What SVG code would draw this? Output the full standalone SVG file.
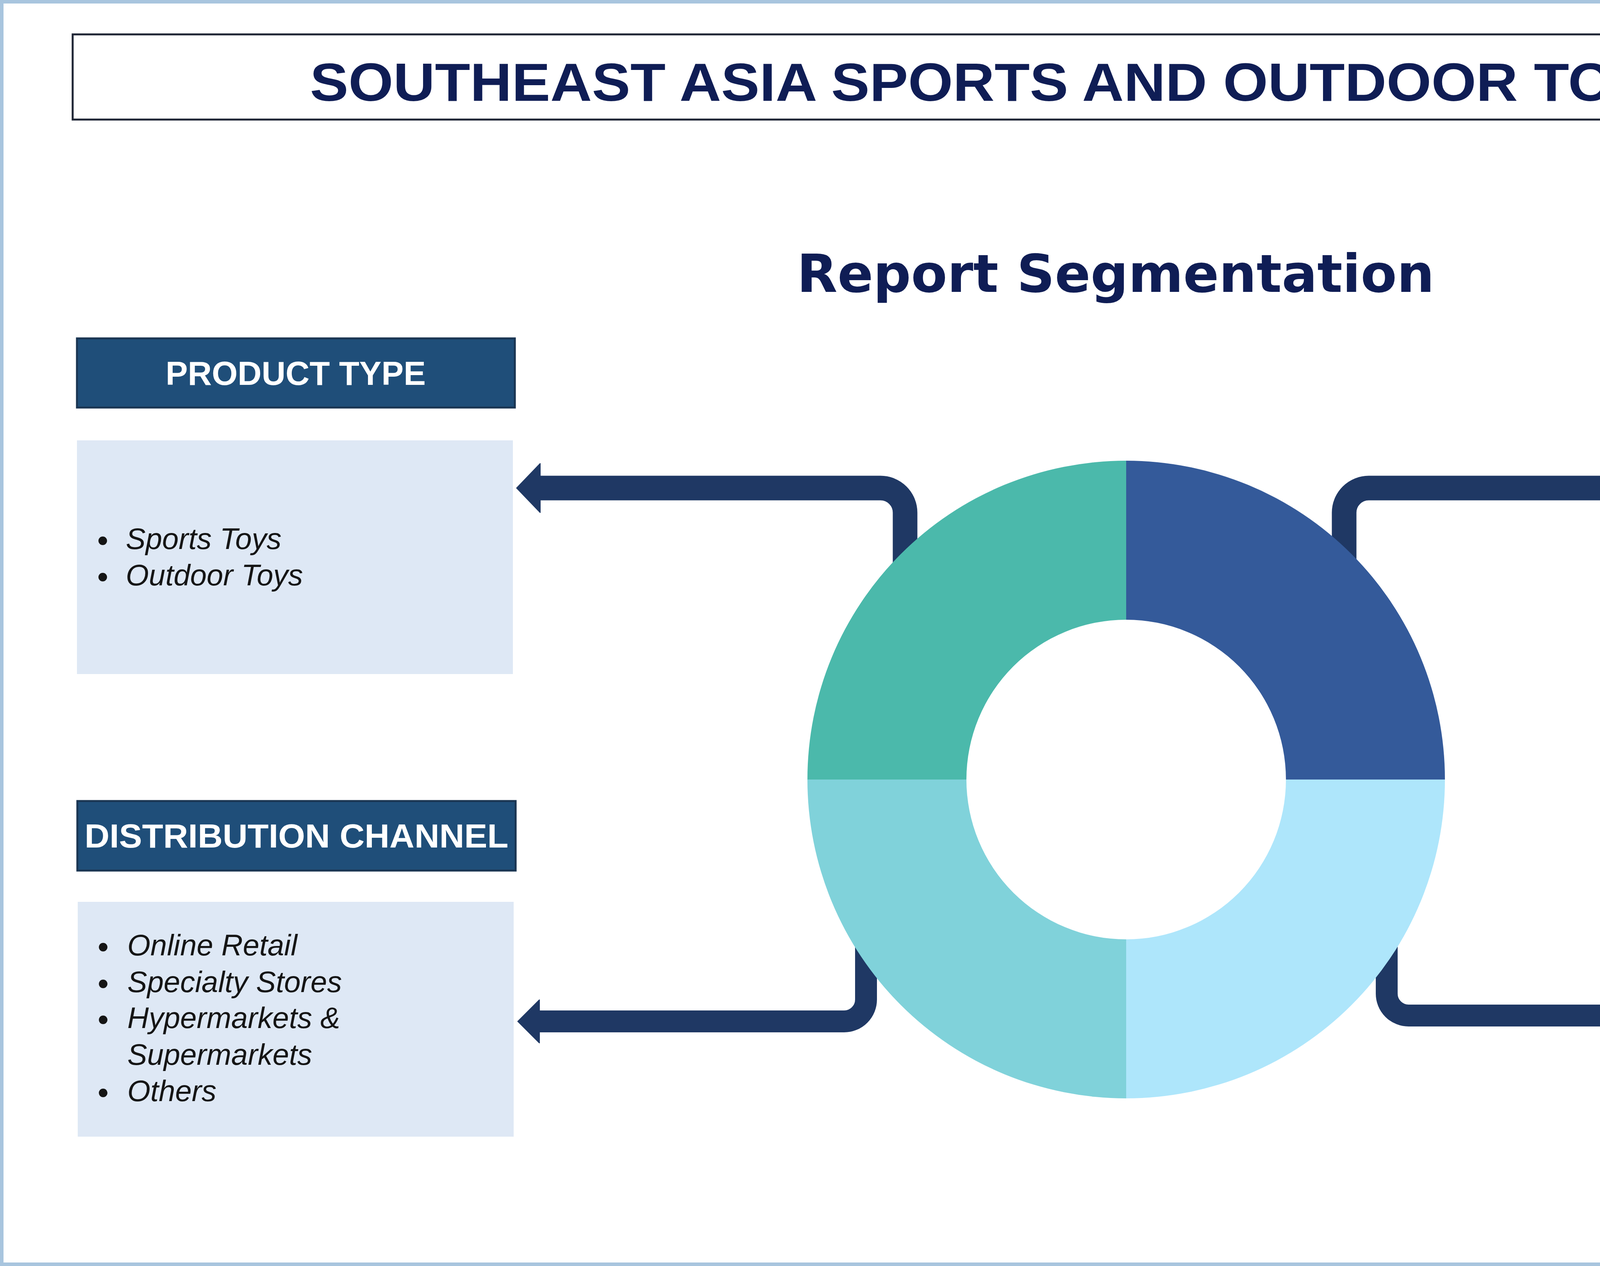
<svg xmlns="http://www.w3.org/2000/svg" width="5760" height="3240" viewBox="0 0 5760 3240">
<style>
.hdr{fill:#1F4E79;stroke:#1A3552;stroke-width:5}
.hdrt{font-family:"Liberation Sans",Arial,sans-serif;font-weight:bold;font-size:85px;fill:#FFFFFF;text-anchor:middle}
.box{fill:#DEE8F5}
.item{font-family:"Liberation Sans",Arial,sans-serif;font-style:italic;font-size:76px;fill:#151515}
.dot{fill:#151515}
.conn{fill:none;stroke:#1F3864}
.big{stroke-width:63}
.small{stroke-width:56}
</style>
<defs>
<marker id="headBig" markerUnits="userSpaceOnUse" markerWidth="66" markerHeight="132" viewBox="-2 -66 66 132" refX="0" refY="0" orient="auto">
<path d="M-2,-63.5 L0,-63.5 L61,0 L0,63.5 L-2,63.5 Z" fill="#1F3864"/>
</marker>
<marker id="headSmall" markerUnits="userSpaceOnUse" markerWidth="60" markerHeight="116" viewBox="-2 -58 60 116" refX="0" refY="0" orient="auto">
<path d="M-2,-56 L0,-56 L56,0 L0,56 L-2,56 Z" fill="#1F3864"/>
</marker>
</defs>
<rect x="0" y="0" width="5760" height="3240" fill="#FFFFFF"/>
<rect x="4.5" y="4.5" width="5751" height="3231" fill="none" stroke="#A8C5DE" stroke-width="9"/>
<g id="title">
<rect x="186" y="88" width="5417" height="218" fill="#FFFFFF" stroke="#1F2535" stroke-width="5"/>
<text x="2896" y="258" font-family="'Liberation Sans',Arial,sans-serif" font-weight="bold" font-size="138" fill="#0F1D55" text-anchor="middle" textLength="4205" lengthAdjust="spacingAndGlyphs">SOUTHEAST ASIA SPORTS AND OUTDOOR TOYS MARKET</text>
</g>
<g id="subtitle">
<text x="2856" y="747" font-family="'DejaVu Sans',Verdana,sans-serif" font-weight="bold" font-size="133" fill="#0F1D55" text-anchor="middle" textLength="1632" lengthAdjust="spacingAndGlyphs">Report Segmentation</text>
</g>
<g id="connectors">
<path class="conn big" d="M2317,1470 V1312 A63,63 0 0 0 2254,1249 H1382" marker-end="url(#headBig)"/>
<path class="conn big" d="M3441,1470 V1312 A63,63 0 0 1 3504,1249 H4376" marker-end="url(#headBig)"/>
<path class="conn small" d="M2217,2420 V2558 A56,56 0 0 1 2161,2614 H1380" marker-end="url(#headSmall)"/>
<path class="conn small" d="M3550,2420 V2543 A56,56 0 0 0 3606,2599 H4388" marker-end="url(#headSmall)"/>
</g>
<g id="donut">
<path d="M2067,1995 A816,816 0 0 1 2883,1179 V1586 A409,409 0 0 0 2474,1995 Z" fill="#4BB9AB"/>
<path d="M2883,1179 A816,816 0 0 1 3699,1995 H3292 A409,409 0 0 0 2883,1586 Z" fill="#345A9A"/>
<path d="M3699,1995 A816,816 0 0 1 2883,2811 V2404 A409,409 0 0 0 3292,1995 Z" fill="#AEE6FB"/>
<path d="M2883,2811 A816,816 0 0 1 2067,1995 H2474 A409,409 0 0 0 2883,2404 Z" fill="#80D2DA"/>
</g>
<g id="product-type">
<rect class="hdr" x="197" y="866" width="1121" height="177"/>
<text class="hdrt" x="757" y="985">PRODUCT TYPE</text>
<rect class="box" x="197" y="1127" width="1116" height="598"/>
<circle class="dot" cx="263" cy="1384" r="11"/>
<text class="item" x="322" y="1405">Sports Toys</text>
<circle class="dot" cx="263" cy="1477" r="11"/>
<text class="item" x="322" y="1498">Outdoor Toys</text>
</g>
<g id="age-group">
<rect class="hdr" x="4440" y="866" width="1132" height="177"/>
<text class="hdrt" x="5006" y="985">AGE GROUP</text>
<rect class="box" x="4447" y="1127" width="1125" height="598"/>
<circle class="dot" cx="4514" cy="1337" r="11"/>
<text class="item" x="4572" y="1358">Less than 5 Years</text>
<circle class="dot" cx="4514" cy="1429" r="11"/>
<text class="item" x="4572" y="1450">Between 5 - 10 Years</text>
<circle class="dot" cx="4514" cy="1522" r="11"/>
<text class="item" x="4572" y="1543">Teens &amp; Adults</text>
</g>
<g id="distribution-channel">
<rect class="hdr" x="198" y="2050" width="1122" height="178"/>
<text class="hdrt" x="759" y="2169" textLength="1085" lengthAdjust="spacingAndGlyphs">DISTRIBUTION CHANNEL</text>
<rect class="box" x="199" y="2308" width="1116" height="601"/>
<circle class="dot" cx="264" cy="2424" r="11"/>
<text class="item" x="326" y="2445">Online Retail</text>
<circle class="dot" cx="264" cy="2518" r="11"/>
<text class="item" x="326" y="2539">Specialty Stores</text>
<circle class="dot" cx="264" cy="2610" r="11"/>
<text class="item" x="326" y="2631">Hypermarkets &amp;</text>
<text class="item" x="326" y="2725">Supermarkets</text>
<circle class="dot" cx="264" cy="2797" r="11"/>
<text class="item" x="326" y="2818">Others</text>
</g>
<g id="country">
<rect class="hdr" x="4438" y="2050" width="1132" height="178"/>
<text class="hdrt" x="5004" y="2169">COUNTRY</text>
<rect class="box" x="4446" y="2307" width="1124" height="690"/>
<circle class="dot" cx="4512" cy="2378" r="11"/>
<text class="item" x="4572" y="2399">Indonesia</text>
<circle class="dot" cx="4512" cy="2469" r="11"/>
<text class="item" x="4572" y="2490">Thailand</text>
<circle class="dot" cx="4512" cy="2562" r="11"/>
<text class="item" x="4572" y="2583">Philippines</text>
<circle class="dot" cx="4512" cy="2655" r="11"/>
<text class="item" x="4572" y="2676">Vietnam</text>
<circle class="dot" cx="4512" cy="2747" r="11"/>
<text class="item" x="4572" y="2768">Malaysia</text>
<circle class="dot" cx="4512" cy="2841" r="11"/>
<text class="item" x="4572" y="2862">Singapore</text>
<circle class="dot" cx="4512" cy="2934" r="11"/>
<text class="item" x="4572" y="2955">Rest of Southeast Asia</text>
</g>
</svg>
